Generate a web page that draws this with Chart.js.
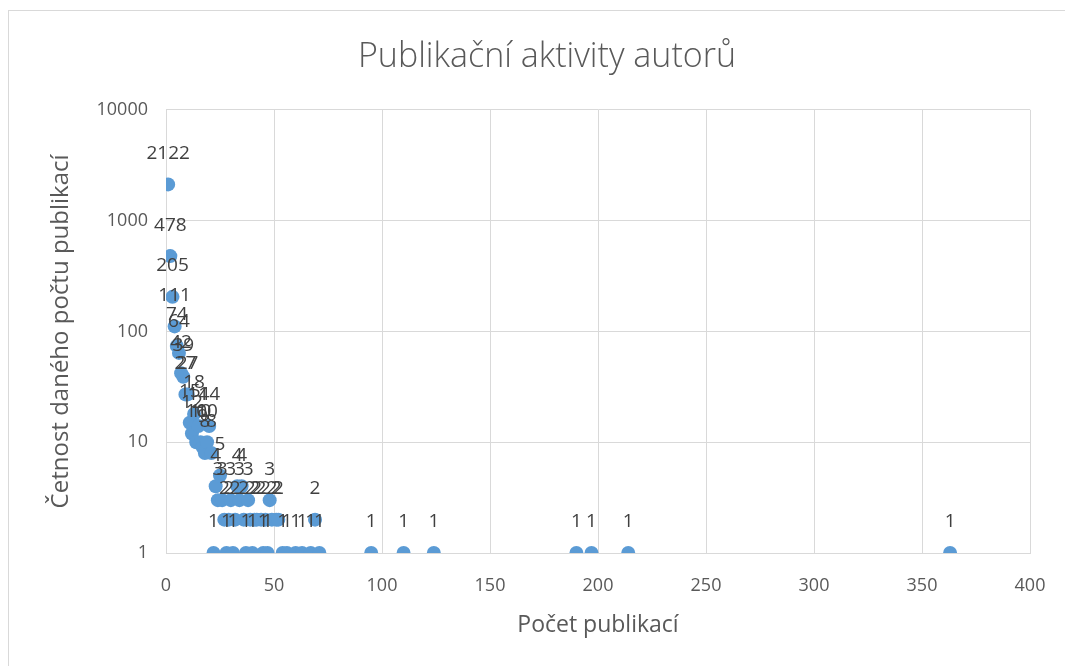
<!DOCTYPE html>
<html>
<head>
<meta charset="utf-8">
<script src="https://cdn.jsdelivr.net/npm/chart.js@4/dist/chart.umd.min.js"></script>
<style>
  html, body { margin: 0; padding: 0; background: #fff; }
  #wrap { position: relative; width: 1065px; height: 666px; overflow: hidden; }
  #frame { position: absolute; left: 8px; top: 10px; width: 1080px; height: 700px; border: 1px solid #d9d9d9; box-sizing: border-box; }
  canvas { position: absolute; left: 0; top: 0; }
</style>
</head>
<body>
<div id="wrap">
  <div id="frame"></div>
  <canvas id="c" width="1065" height="666"></canvas>
</div>
<script>
// Počet publikací (x) and četnost (y)
const pubCounts = [1,2,3,4,5,6,7,8,9,10,11,12,13,14,15,16,17,18,19,20,21,22,23,24,25,26,27,28,29,30,31,32,33,34,35,36,37,38,39,40,41,42,44,45,46,47,48,49,51,52,54,56,60,63,67,69,71,95,110,124,190,197,214,363];
const frequencies = [2122,478,205,111,74,64,42,39,27,27,15,12,18,10,14,10,9,8,10,14,8,1,4,3,5,3,2,1,2,3,1,2,4,3,4,2,1,3,2,1,2,2,2,1,2,1,3,2,2,2,1,1,1,1,1,2,1,1,1,1,1,1,1,1];
const yTicks = [1, 10, 100, 1000, 10000];
const xTicksStep = 50;

const points = pubCounts.map((x, i) => ({ x: x, y: frequencies[i] }));

const FONT = "'Open Sans', 'Noto Sans', sans-serif";

const dataLabels = {
  id: 'dataLabels',
  afterDatasetsDraw(chart) {
    const ctx = chart.ctx;
    const meta = chart.getDatasetMeta(0);
    ctx.save();
    ctx.font = "19px " + FONT;
    ctx.fillStyle = '#404040';
    ctx.textAlign = 'center';
    ctx.textBaseline = 'middle';
    meta.data.forEach((el, i) => {
      ctx.fillText(String(frequencies[i]), el.x, el.y - 31);
    });
    ctx.restore();
  }
};

// shift the title's centring box to match the reference frame
const titleShift = {
  id: 'titleShift',
  afterLayout(chart) {
    if (chart.titleBlock) { chart.titleBlock.left = 64; }
  }
};

new Chart(document.getElementById('c'), {
  type: 'scatter',
  data: {
    datasets: [{
      data: points,
      backgroundColor: '#5b9bd5',
      borderColor: '#5b9bd5',
      pointRadius: 7,
      pointHoverRadius: 7,
      borderWidth: 0
    }]
  },
  options: {
    responsive: false,
    animation: false,
    events: [],
    layout: { padding: { left: 10, right: 35, top: 10, bottom: 0 } },
    plugins: {
      legend: { display: false },
      tooltip: { enabled: false },
      title: {
        display: true,
        text: 'Publikační aktivity autorů',
        color: '#595959',
        font: { family: FONT, size: 34, weight: '300' },
        padding: { top: 27, bottom: 32 }
      }
    },
    scales: {
      x: {
        type: 'linear',
        min: 0,
        max: 400,
        ticks: { stepSize: xTicksStep, color: '#595959', font: { family: FONT, size: 18 }, padding: 22 },
        grid: { color: '#d9d9d9', drawTicks: false },
        border: { color: '#d9d9d9' },
        title: { display: true, text: 'Počet publikací', color: '#595959', font: { family: FONT, size: 23 }, padding: { top: 0, bottom: 27 } },
        afterFit(scale) { scale.height = 113; scale.paddingRight = 0; scale.paddingLeft = 0; }
      },
      y: {
        type: 'logarithmic',
        min: 1,
        max: 10000,
        afterBuildTicks(scale) { scale.ticks = yTicks.map(v => ({ value: v })); },
        ticks: { color: '#595959', font: { family: FONT, size: 18 }, padding: 18, callback: (v) => String(v) },
        grid: { color: '#d9d9d9', drawTicks: false },
        border: { color: '#d9d9d9' },
        title: { display: true, text: 'Četnost daného počtu publikací', color: '#595959', font: { family: FONT, size: 24 }, padding: { top: 37, bottom: 0 } },
        afterFit(scale) { scale.width = 156; }
      }
    }
  },
  plugins: [dataLabels, titleShift]
});
</script>
</body>
</html>
